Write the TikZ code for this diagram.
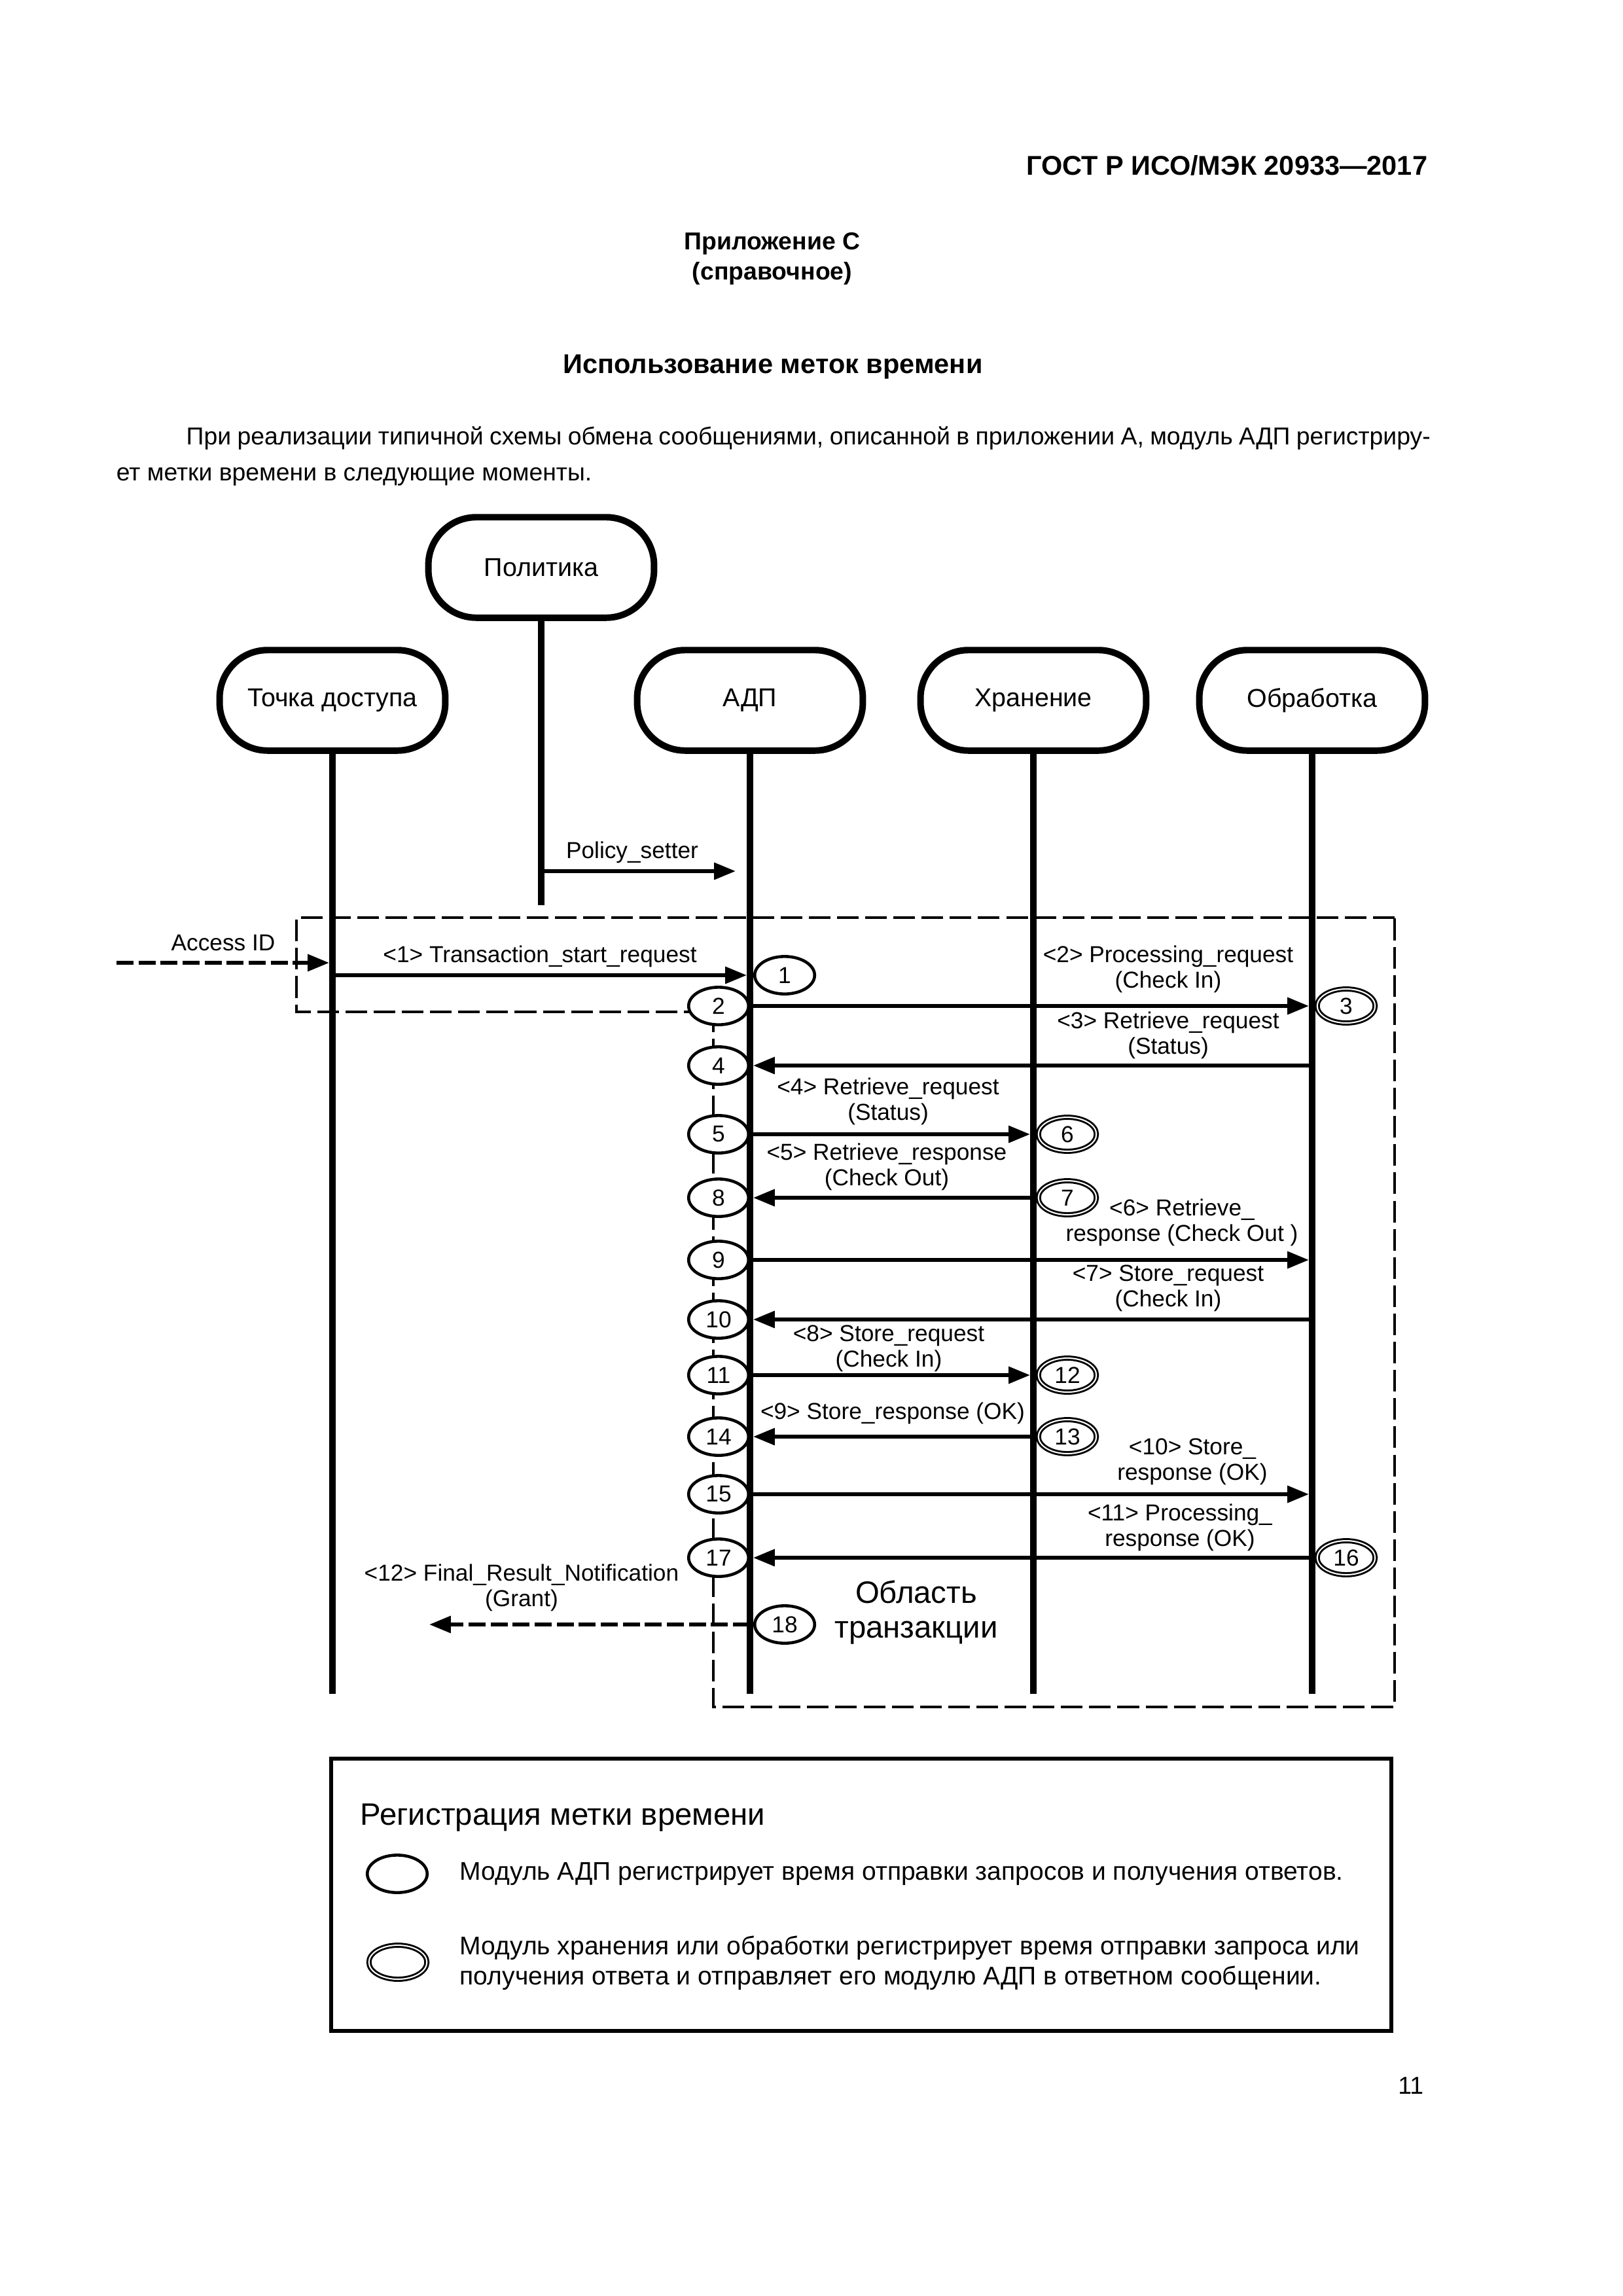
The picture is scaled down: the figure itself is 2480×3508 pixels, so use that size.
\documentclass[tikz,border=0pt]{standalone}
\usepackage{fontspec}
\setmainfont{Liberation Sans}
\usetikzlibrary{arrows.meta,shapes.geometric}

\tikzset{
  lane/.style={draw, line width=2.4pt, rounded corners=6.2mm, minimum width=29.2mm,
    minimum height=13.0mm, inner sep=0pt, font=\fontsize{9.5}{11}\selectfont},
  life/.style={line width=2.4pt},
  msg/.style={-{Triangle[length=2.8mm,width=2.1mm]}, line width=1.6pt, shorten >=0.4mm},
  dmsg/.style={msg, dash pattern=on 2.2mm off 0.65mm},
  lbl/.style={font=\fontsize{8.5}{9.2}\selectfont, align=center, inner sep=0pt},
  stamp/.style={ellipse, draw, fill=white, line width=1.1pt, minimum width=7.75mm,
    minimum height=4.85mm, inner sep=0pt, font=\fontsize{8.5}{9}\selectfont},
  dstamp/.style={stamp, line width=0.7pt, double, double distance=0.5pt,
    minimum width=7.5mm, minimum height=4.4mm},
  area/.style={line width=0.9pt, dash pattern=on 2.8mm off 0.85mm},
  ptext/.style={inner sep=0pt, font=\fontsize{9}{13.3}\selectfont},
  htext/.style={inner sep=0pt, font=\bfseries\fontsize{10}{12}\selectfont}
}

\begin{document}
\begin{tikzpicture}[x=0.0846774mm, y=-0.0846774mm]
  \useasboundingbox (0,0) rectangle (2480,3508);

  %% page head
  \node[htext, anchor=base east] (gost) at (2182,267) {ГОСТ Р ИСО/МЭК 20933—2017};
  \node[htext, anchor=base, font=\bfseries\fontsize{9}{11}\selectfont] (app) at (1180,381) {Приложение С};
  \node[htext, anchor=base, font=\bfseries\fontsize{9}{11}\selectfont] (appkind) at (1180,427) {(справочное)};
  \node[htext, anchor=base] (title) at (1181,570) {Использование меток времени};
  \node[ptext, anchor=base west, text width=170mm, align=justify] (para) at (177,679)
    {\hspace*{9.05mm}При реализации типичной схемы обмена сообщениями, описанной в приложении А, модуль АДП регистриру-\linebreak ет метки времени в следующие моменты.};

  %% transaction area
  \draw[area] (2131,1402) -- (453,1402) -- (453,1546) -- (1090,1546)
    -- (1090,2608) -- (2131,2608) -- cycle;

  %% lanes
  \node[lane] (pol) at (827,867) {Политика};
  \node[lane] (tochka) at (508,1070) {Точка доступа};
  \node[lane] (adp) at (1146,1070) {АДП};
  \node[lane] (hran) at (1579,1070) {Хранение};
  \node[lane] (obr) at (2005,1070) {Обработка};

  \coordinate (polend) at (827,1383);
  \coordinate (bottom) at (0,2588);
  \draw[life] (pol) -- (polend);
  \foreach \n in {tochka,adp,hran,obr}
    \draw[life] (\n) -- (\n |- bottom);

  %% time stamps
  \node[stamp] (t1) at (1199,1490) {1};
  \node[stamp] (t2) at (1098,1537) {2};
  \node[dstamp] (t3) at (2057,1537) {3};
  \node[stamp] (t4) at (1098,1628) {4};
  \node[stamp] (t5) at (1098,1733) {5};
  \node[dstamp] (t6) at (1631,1733) {6};
  \node[dstamp] (t7) at (1631,1830) {7};
  \node[stamp] (t8) at (1098,1830) {8};
  \node[stamp] (t9) at (1098,1925) {9};
  \node[stamp] (t10) at (1098,2016) {10};
  \node[stamp] (t11) at (1098,2101) {11};
  \node[dstamp] (t12) at (1631,2101) {12};
  \node[dstamp] (t13) at (1631,2195) {13};
  \node[stamp] (t14) at (1098,2195) {14};
  \node[stamp] (t15) at (1098,2283) {15};
  \node[dstamp] (t16) at (2057,2380) {16};
  \node[stamp] (t17) at (1098,2380) {17};
  \node[stamp] (t18) at (1199,2482) {18};

  %% messages
  \coordinate (psend) at (1129,1331);
  \coordinate (accin) at (178,1471);
  \coordinate (fin) at (651,2482);
  \draw[msg] (pol |- psend) -- (psend);
  \draw[dmsg] (accin) -- (tochka |- accin);
  \draw[msg] (tochka |- t1) -- (adp |- t1); %% 1
  \draw[msg] (adp |- t2) -- (obr |- t2); %% 2->3
  \draw[msg] (obr |- t4) -- (adp |- t4); %% 3->4
  \draw[msg] (adp |- t5) -- (hran |- t5); %% 5->6
  \draw[msg] (hran |- t8) -- (adp |- t8); %% 7->8
  \draw[msg] (adp |- t9) -- (obr |- t9); %% 9
  \draw[msg] (obr |- t10) -- (adp |- t10); %% 10
  \draw[msg] (adp |- t11) -- (hran |- t11); %% 11->12
  \draw[msg] (hran |- t14) -- (adp |- t14); %% 13->14
  \draw[msg] (adp |- t15) -- (obr |- t15); %% 15
  \draw[msg] (obr |- t17) -- (adp |- t17); %% 16->17
  \draw[dmsg] (adp |- t18) -- (fin); %% 18

  %% message labels (base = last line)
  \node[lbl, anchor=base] (lps) at (966,1311) {Policy\_setter};
  \node[lbl, anchor=base] (lacc) at (341,1452) {Access ID};
  \node[lbl, anchor=base] (l1) at (825,1470) {<1> Transaction\_start\_request};
  \node[lbl, anchor=base] (l2) at (1785,1509) {<2> Processing\_request\\(Check In)};
  \node[lbl, anchor=base] (l3) at (1785,1610) {<3> Retrieve\_request\\(Status)};
  \node[lbl, anchor=base] (l4) at (1357,1711) {<4> Retrieve\_request\\(Status)};
  \node[lbl, anchor=base] (l5) at (1355,1811) {<5> Retrieve\_response\\(Check Out)};
  \node[lbl, anchor=base] (l6) at (1806,1896) {<6> Retrieve\_\\response (Check Out )};
  \node[lbl, anchor=base] (l7) at (1785,1996) {<7> Store\_request\\(Check In)};
  \node[lbl, anchor=base] (l8) at (1358,2088) {<8> Store\_request\\(Check In)};
  \node[lbl, anchor=base] (l9) at (1364,2168) {<9> Store\_response (OK)};
  \node[lbl, anchor=base] (l10) at (1822,2261) {<10> Store\_\\response (OK)};
  \node[lbl, anchor=base] (l11) at (1803,2362) {<11> Processing\_\\response (OK)};
  \node[lbl, anchor=base] (l12) at (797,2454) {<12> Final\_Result\_Notification\\(Grant)};
  \node[lbl, anchor=base, font=\fontsize{11.4}{12.7}\selectfont] (scope) at (1400,2502)
    {Область\\транзакции};

  %% legend
  \node[draw, line width=1.5pt, minimum width=137.1mm, minimum height=35.2mm,
    inner sep=0pt] (legend) at (1316,2895) {};
  \node[inner sep=0pt, anchor=base west, font=\fontsize{11.4}{13}\selectfont] (legtitle)
    at (550,2788) {Регистрация метки времени};
  \node[stamp] (legs) at (607,2863) {};
  \node[dstamp] (legd) at (608,2998) {};
  \node[inner sep=0pt, anchor=base west, font=\fontsize{9.4}{9.9}\selectfont] (legtext1)
    at (702,2872) {Модуль АДП регистрирует время отправки запросов и получения ответов.};
  \node[inner sep=0pt, anchor=base west, align=left, font=\fontsize{9.4}{11}\selectfont]
    (legtext2) at (702,3032) {Модуль хранения или обработки регистрирует время отправки запроса или\\получения ответа и отправляет его модулю АДП в ответном сообщении.};

  \node[ptext, anchor=base east] (pageno) at (2176,3199) {11};
\end{tikzpicture}
\end{document}
